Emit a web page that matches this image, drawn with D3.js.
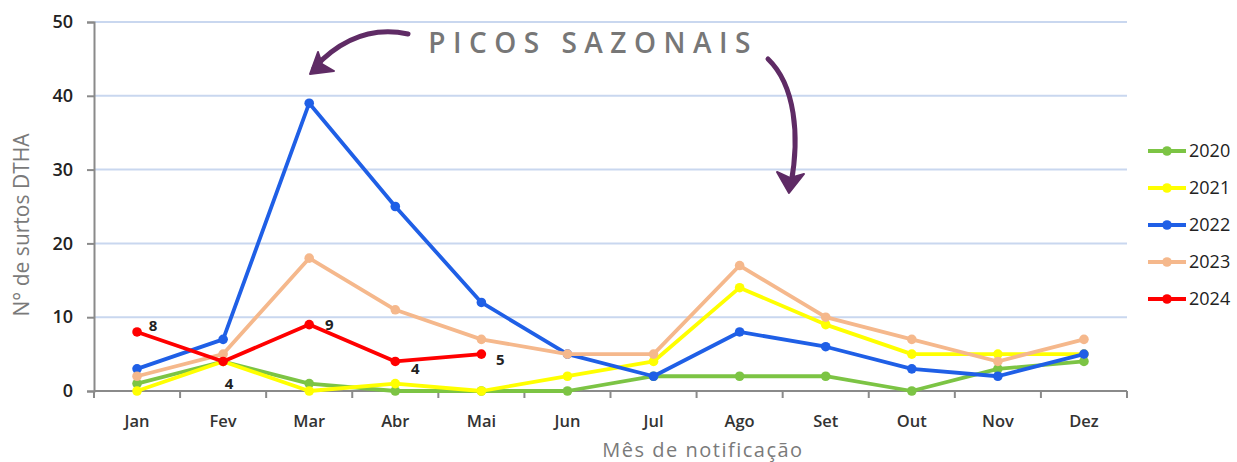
<!DOCTYPE html>
<html>
<head>
<meta charset="utf-8">
<script src="https://cdn.jsdelivr.net/npm/d3@7"></script>
<style>
  body { margin: 0; background: #fff; }
  svg { display: block; }
</style>
</head>
<body>
<div id="graph"></div>
<script>
// data
var months = ["Jan", "Fev", "Mar", "Abr", "Mai", "Jun", "Jul", "Ago", "Set", "Out", "Nov", "Dez"];
var years = ["2020", "2021", "2022", "2023", "2024"];
var colors = ["#7cc444", "#ffff00", "#1f5fe6", "#f5b88c", "#ff0000"];
var v2020 = [1, 4, 1, 0, 0, 0, 2, 2, 2, 0, 3, 4];
var v2021 = [0, 4, 0, 1, 0, 2, 4, 14, 9, 5, 5, 5];
var v2022 = [3, 7, 39, 25, 12, 5, 2, 8, 6, 3, 2, 5];
var v2023 = [2, 5, 18, 11, 7, 5, 5, 17, 10, 7, 4, 7];
var v2024 = [8, 4, 9, 4, 5];
var yTicks = [0, 10, 20, 30, 40, 50];

var W = 1237, H = 462;
var margin = {top: 22, right: 110, bottom: 71, left: 94},
    width = W - margin.left - margin.right,
    height = H - margin.top - margin.bottom;

var svg = d3.select("#graph").append("svg")
    .attr("width", W)
    .attr("height", H);
var g = svg.append("g")
    .attr("transform", "translate(" + margin.left + "," + margin.top + ")");

var xScale = d3.scaleBand().domain(months).range([0, width]);
var yScale = d3.scaleLinear().domain([0, 50]).range([height, 0]);

// grid
g.selectAll(".grid").data(yTicks.filter(function(d) { return d > 0; }))
    .enter().append("line")
    .attr("x1", 0).attr("x2", width)
    .attr("y1", function(d) { return yScale(d); })
    .attr("y2", function(d) { return yScale(d); })
    .attr("stroke", "#c9d7ef")
    .attr("stroke-width", 2);

// y axis
var yaxis = d3.axisLeft(yScale).tickValues(yTicks).tickSize(7).tickPadding(14);
var yg = g.append("g").call(yaxis);
yg.select(".domain").attr("stroke", "#8a8a8a").attr("stroke-width", 2);
yg.selectAll(".tick line").attr("stroke", "#8a8a8a").attr("stroke-width", 2);
yg.selectAll("text")
    .style("font-family", "'Open Sans', sans-serif")
    .style("font-weight", "600")
    .style("font-size", "18px")
    .attr("fill", "#222");

// x axis: ticks at band edges
var xg = g.append("g").attr("transform", "translate(0," + height + ")");
xg.append("line").attr("x1", 0).attr("x2", width)
    .attr("stroke", "#8a8a8a").attr("stroke-width", 2);
xg.selectAll(".xt").data(months.concat(["end"]))
    .enter().append("line")
    .attr("x1", function(d, i) { return i * xScale.bandwidth(); })
    .attr("x2", function(d, i) { return i * xScale.bandwidth(); })
    .attr("y1", 0).attr("y2", 7)
    .attr("stroke", "#8a8a8a").attr("stroke-width", 2);
xg.selectAll(".xl").data(months)
    .enter().append("text")
    .attr("x", function(d) { return xScale(d) + xScale.bandwidth() / 2; })
    .attr("y", 36)
    .attr("text-anchor", "middle")
    .style("font-family", "'Open Sans', sans-serif")
    .style("font-size", "16.5px")
    .style("font-weight", "600")
    .attr("fill", "#333")
    .text(function(d) { return d; });

// axis titles
svg.append("text")
    .attr("transform", "translate(29,225) rotate(-90)")
    .attr("text-anchor", "middle")
    .style("font-family", "'Open Sans', sans-serif")
    .style("font-size", "21px")
    .attr("fill", "#7a7a7a")
    .text("N° de surtos DTHA");
svg.append("text")
    .attr("x", 703).attr("y", 457)
    .attr("text-anchor", "middle")
    .style("font-family", "'Open Sans', sans-serif")
    .style("font-size", "20px")
    .style("letter-spacing", "1.5px")
    .attr("fill", "#7a7a7a")
    .text("Mês de notificação");

// series
var series = [v2020, v2021, v2022, v2023, v2024];
var line = d3.line()
    .x(function(d, i) { return xScale(months[i]) + xScale.bandwidth() / 2; })
    .y(function(d) { return yScale(d); });

series.forEach(function(vals, s) {
    g.append("path")
        .datum(vals)
        .attr("d", line)
        .attr("fill", "none")
        .attr("stroke", colors[s])
        .attr("stroke-width", 3.8)
        .attr("stroke-linejoin", "round");
    g.selectAll(".pt" + s).data(vals)
        .enter().append("circle")
        .attr("cx", function(d, i) { return xScale(months[i]) + xScale.bandwidth() / 2; })
        .attr("cy", function(d) { return yScale(d); })
        .attr("r", 4.8)
        .attr("fill", colors[s]);
});

// 2024 data labels
var labelOff = [[16, -6], [6, 22], [20, 0], [20, 7], [19, 6]];
g.selectAll(".lbl").data(v2024)
    .enter().append("text")
    .attr("x", function(d, i) { return xScale(months[i]) + xScale.bandwidth() / 2 + labelOff[i][0]; })
    .attr("y", function(d, i) { return yScale(d) + labelOff[i][1]; })
    .attr("dy", "0.35em")
    .attr("text-anchor", "middle")
    .style("font-family", "'Open Sans', sans-serif")
    .style("font-weight", "700")
    .style("font-size", "15px")
    .attr("fill", "#222")
    .text(function(d) { return d; });

// legend
var legend = svg.append("g").attr("transform", "translate(1148,151)");
years.forEach(function(y, i) {
    var lg = legend.append("g").attr("transform", "translate(0," + i * 37 + ")");
    lg.append("line").attr("x1", 0).attr("x2", 38)
        .attr("stroke", colors[i]).attr("stroke-width", 3.8);
    lg.append("circle").attr("cx", 19).attr("r", 4.8).attr("fill", colors[i]);
    lg.append("text").attr("x", 41).attr("dy", "0.35em")
        .style("font-family", "'Open Sans', sans-serif")
        .style("font-size", "18px")
        .attr("fill", "#222")
        .text(y);
});

// annotation
svg.append("text")
    .attr("x", 593).attr("y", 53)
    .attr("text-anchor", "middle")
    .style("font-family", "'Open Sans', sans-serif")
    .style("font-size", "28px")
    .style("font-weight", "600")
    .style("letter-spacing", "7.5px")
    .attr("fill", "#777")
    .text("PICOS SAZONAIS");

var arrowCol = "#5f2b65";
svg.append("path")
    .attr("d", "M408,34 C370,26 340,40 314,68")
    .attr("fill", "none").attr("stroke", arrowCol)
    .attr("stroke-width", 5).attr("stroke-linecap", "round");
svg.append("path")
    .attr("d", "M310,74 L318,52 L322,64 L334,71 Z")
    .attr("fill", arrowCol).attr("stroke", arrowCol)
    .attr("stroke-width", 2).attr("stroke-linejoin", "round");
svg.append("path")
    .attr("d", "M768,59 C795,85 800,135 791,184")
    .attr("fill", "none").attr("stroke", arrowCol)
    .attr("stroke-width", 5).attr("stroke-linecap", "round");
svg.append("path")
    .attr("d", "M789,193 L777,172 L790,178 L804,174 Z")
    .attr("fill", arrowCol).attr("stroke", arrowCol)
    .attr("stroke-width", 2).attr("stroke-linejoin", "round");
</script>
</body>
</html>
